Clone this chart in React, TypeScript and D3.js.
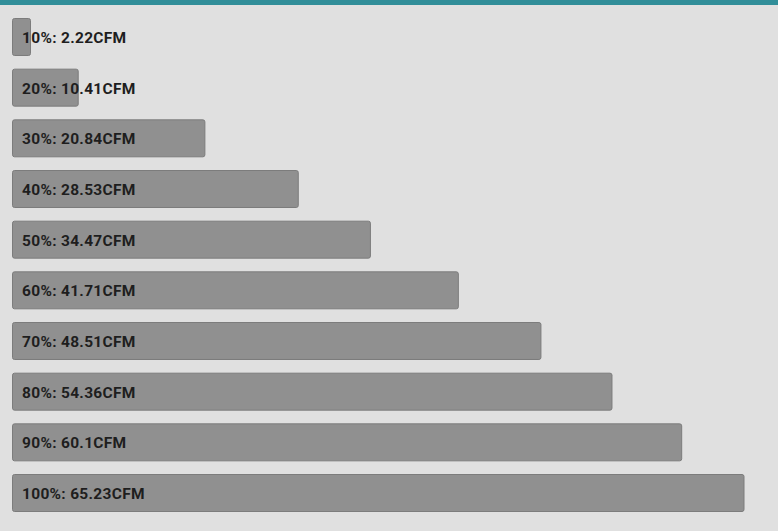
import React, { useEffect, useRef } from "react";
import * as d3 from "d3";

const levels = ["10%", "20%", "30%", "40%", "50%", "60%", "70%", "80%", "90%", "100%"];
const airflow = [2.22, 10.41, 20.84, 28.53, 34.47, 41.71, 48.51, 54.36, 60.1, 65.23];
const unit = "CFM";

const W = 778;
const H = 531;

export default function App() {
  const svgRef = useRef<SVGSVGElement | null>(null);

  useEffect(() => {
    document.body.style.margin = "0";
    if (!svgRef.current) return;
    const svg = d3.select(svgRef.current);
    svg.selectAll("*").remove();

    const margin = { top: 18, left: 12, right: 34.5, bottom: 20 };

    // background + teal header strip
    svg.append("rect").attr("width", W).attr("height", H).attr("fill", "#e0e0e0");
    svg.append("rect").attr("width", W).attr("height", 5).attr("fill", "#318e99");

    const data = levels.map((l, i) => ({ level: l, value: airflow[i] }));

    const y = d3
      .scaleBand<string>()
      .domain(levels)
      .range([margin.top, H - margin.bottom])
      .paddingInner(0.27)
      .paddingOuter(0);

    const x = d3
      .scaleLinear()
      .domain([5, d3.max(airflow) || 0])
      .range([0, W - margin.left - margin.right]);

    const minW = 18;

    const rows = svg
      .selectAll("g.row")
      .data(data)
      .join("g")
      .attr("class", "row");

    rows
      .append("rect")
      .attr("x", margin.left + 0.5)
      .attr("y", (d) => (y(d.level) || 0) + 0.5)
      .attr("width", (d) => Math.max(minW, x(d.value)))
      .attr("height", y.bandwidth())
      .attr("rx", 2)
      .attr("fill", "#909090")
      .attr("stroke", "#7c7c7c")
      .attr("stroke-width", 1);

    rows
      .append("text")
      .attr("x", margin.left + 10)
      .attr("y", (d) => (y(d.level) || 0) + y.bandwidth() / 2 + 1)
      .attr("dy", "0.36em")
      .attr("font-family", "Roboto, sans-serif")
      .attr("font-weight", 700)
      .attr("font-size", 15.5)
      .attr("letter-spacing", 0.3)
      .attr("fill", "#1e1e1e")
      .text((d) => `${d.level}: ${d.value}${unit}`);
  }, []);

  return <svg ref={svgRef} width={W} height={H} style={{ display: "block" }} />;
}
